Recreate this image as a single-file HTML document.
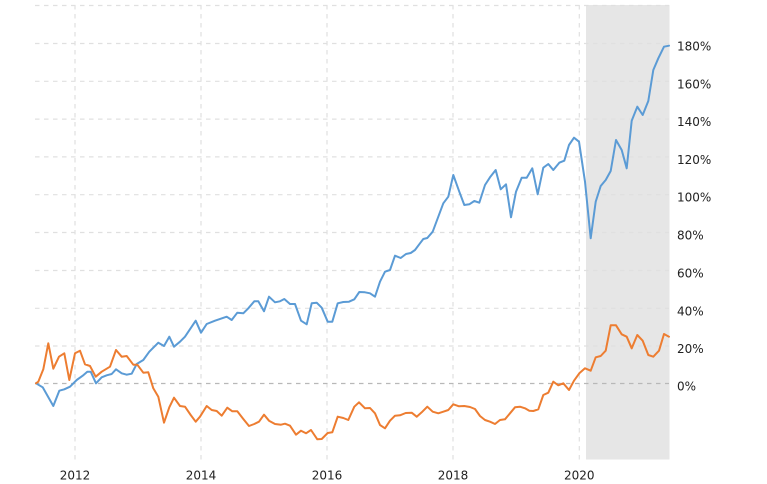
<!DOCTYPE html>
<html>
<head>
<meta charset="utf-8">
<style>
  html, body { margin:0; padding:0; background:#fff; }
  svg { display:block; }
  text { font-family: "DejaVu Sans", "Liberation Sans", sans-serif; font-size:12px; fill:#222; }
</style>
</head>
<body>
<svg width="767" height="484" viewBox="0 0 767 484" xmlns="http://www.w3.org/2000/svg">
  <rect x="0" y="0" width="767" height="484" fill="#ffffff"/>
  <!-- shaded region -->
  <rect x="586" y="5" width="83.5" height="454.5" fill="#e6e6e6"/>
  <!-- horizontal grid -->
  <g stroke="#e0e0e0" stroke-width="1.2" stroke-dasharray="4.5,4.5" fill="none">
    <line x1="35" y1="5.5" x2="669" y2="5.5"/>
    <line x1="35" y1="43.5" x2="669" y2="43.5"/>
    <line x1="35" y1="81.3" x2="669" y2="81.3"/>
    <line x1="35" y1="119.1" x2="669" y2="119.1"/>
    <line x1="35" y1="156.9" x2="669" y2="156.9"/>
    <line x1="35" y1="194.7" x2="669" y2="194.7"/>
    <line x1="35" y1="232.5" x2="669" y2="232.5"/>
    <line x1="35" y1="270.5" x2="669" y2="270.5"/>
    <line x1="35" y1="308.3" x2="669" y2="308.3"/>
    <line x1="35" y1="346" x2="669" y2="346"/>
  </g>
  <!-- vertical grid -->
  <g stroke="#e0e0e0" stroke-width="1.2" stroke-dasharray="4.5,4.5" fill="none">
    <line x1="75" y1="5" x2="75" y2="460"/>
    <line x1="201" y1="5" x2="201" y2="460"/>
    <line x1="327" y1="5" x2="327" y2="460"/>
    <line x1="453" y1="5" x2="453" y2="460"/>
    <line x1="579.3" y1="5" x2="579.3" y2="460"/>
  </g>
  <!-- zero line -->
  <line x1="35" y1="383.5" x2="669" y2="383.5" stroke="#b8b8b8" stroke-width="1.3" stroke-dasharray="4.5,4.5"/>

  <!-- blue series -->
  <polyline fill="none" stroke="#5b9bd5" stroke-width="2" stroke-linejoin="round" stroke-linecap="round" points="
36,383.3 42.7,387.3 53.3,406 59.3,390.7 64.3,389.3 70,386.7 76.7,380 82.7,375.7 87.3,371.7 90.7,371.7 96,383.3 101.7,377.3 106.7,375.3 111.7,374 116,369.3 121.7,373.3 126.7,374.7 131.7,373.7 136.7,364 143.3,360 149.3,351.7 158.3,342.7 164,346 169.3,336.7 174,346.7 180,341.7 185,336.7 195.7,320.7 201,332.7 206.7,324 215,320.7 226.7,316.7 231.7,320 237.3,312.7 243.3,313.3 248.3,308.3 254.3,301.3 258.3,301.3 264,311.3 269,296.7 275,302.3 280,301.3 284.3,299 290,304 295,304 301,320.7 306.7,324.3 311.7,303.3 316.7,302.7 321.7,307.7 327.7,321.7 332.3,321.7 337.7,303.3 343.3,302 349,301.7 354.3,299.3 359.3,292 365,292.3 370,293.3 375,296.7 380,281.7 385,271.7 390,270 395,255.7 400.7,258 406,254 410.7,253 415,250 420,243.3 423.3,239 427.3,238 432.7,231.7 438.3,216.7 443.3,203.3 448.3,196.7 453.3,175 459.3,191.7 464.3,205 469.3,204.3 474.3,201 479.3,202.7 485,185 490,177.3 495.7,170 500.7,189.3 506,184.3 511,217.3 516,191.7 521.7,177.7 526.7,177.7 532.3,168.3 537.7,194.3 543.3,167.7 548.3,164 553.3,170 559.3,162.7 564.3,160.7 569,145 574,137.7 579,141.7 585,181.7 590.7,238.3 595.7,201.7 600.7,186 605.7,180 610.7,171 616,140 621.7,150 626.7,168.3 631.7,120.7 637.3,106.7 642.7,115 648.3,101 653.3,70 658.3,58.3 664,46.7 669,45.7"/>

  <!-- orange series -->
  <polyline fill="none" stroke="#ed7d31" stroke-width="2" stroke-linejoin="round" stroke-linecap="round" points="
36,383.3 38.3,381.7 43.3,369.3 48.3,343.3 53.3,368.7 59,356.7 64.3,353.3 69.3,380 75,353.3 80,350.7 85,364.3 90,366 95.7,376.7 101.7,371.7 110,366.7 116,350 121.7,356.7 126.7,356 133.3,364.7 137.3,364.7 143.3,372.7 148.3,372.3 153.3,388.3 158.3,396.7 164,422.7 169.3,407.3 174,397.7 180,406 185,406.7 190.7,415 195.7,421.7 200,416.7 206.7,406 211.7,410 216.7,411 221.7,415.7 227.3,407.7 232.3,411.3 237.3,411.3 243.3,419 249,426 254.3,424 259,421.7 264,414.7 269,420.7 275,424 281,424.7 285,423.7 290,425.7 296,434.7 301,430.7 306,433.3 311,430 317.3,439.3 321.7,439 327.7,433 332.3,432.3 337.7,416.7 343.3,418 348.3,420 354.3,406.7 359,402.3 365,408.3 370,408 375,413.3 380,425 385,428.3 390,420.7 395,415.7 400,415.3 405.7,413 411.7,412.7 416.7,416.7 421.7,412.3 427.3,406.7 432.7,411.7 438.3,413.3 443.3,411.7 448.3,410 453.3,404.3 459,406.3 464.3,406 470,407 475,409 480,416 485,420 490,421.7 495,424 500,420 505,419.3 510,413.3 515,407.3 520,406.7 525,408.3 529.3,410.7 533.3,411 538.3,409.3 543.3,395 548.3,392.7 553.3,381.7 558.3,385.3 563.3,383.3 569,390 574,380.7 579.3,373.3 585,368.3 590.7,370.7 595.7,357.3 600.7,356 605.7,350.7 610.7,325.3 616,325.3 621.7,334.3 626.7,336.7 631.7,348.3 637.3,335 642.7,340.7 648.3,355 653.3,356.7 659,350.7 664,334 669,336.7"/>

  <!-- right axis labels -->
  <g>
    <text x="677" y="50.5">180%</text>
    <text x="677" y="88.3">160%</text>
    <text x="677" y="126.1">140%</text>
    <text x="677" y="163.9">120%</text>
    <text x="677" y="201.7">100%</text>
    <text x="677" y="239.5">80%</text>
    <text x="677" y="277.5">60%</text>
    <text x="677" y="315.3">40%</text>
    <text x="677" y="353">20%</text>
    <text x="677" y="390.7">0%</text>
  </g>
  <!-- bottom axis labels -->
  <g text-anchor="middle">
    <text x="75" y="479.3">2012</text>
    <text x="201" y="479.3">2014</text>
    <text x="327" y="479.3">2016</text>
    <text x="453" y="479.3">2018</text>
    <text x="579.3" y="479.3">2020</text>
  </g>
</svg>
</body>
</html>
